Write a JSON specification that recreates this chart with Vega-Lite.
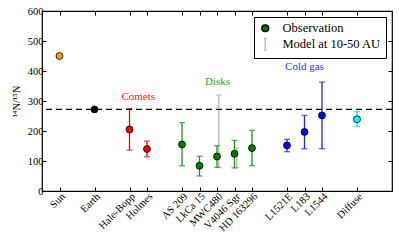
{
  "$schema": "https://vega.github.io/schema/vega-lite/v6.json",
  "width": 350,
  "height": 180,
  "autosize": {"type": "none"},
  "padding": {"left": 42, "top": 11, "right": 7, "bottom": 53},
  "config": {
    "font": "Liberation Serif",
    "text": {"font": "Liberation Serif"},
    "view": {"stroke": "black", "strokeWidth": 1.2},
    "axis": {
      "grid": false,
      "domain": false,
      "tickColor": "black",
      "tickSize": -4,
      "tickWidth": 1,
      "labelColor": "black",
      "labelFontSize": 10.5,
      "labelFont": "Liberation Serif",
      "titleFont": "Liberation Serif",
      "titleFontWeight": "normal",
      "titleColor": "black"
    },
    "legend": {"labelFont": "Liberation Serif"}
  },
  "datasets": {
    "obs": [
      {"name": "Sun", "x": 1, "v": 450, "lo": null, "hi": null, "group": "Sun"},
      {"name": "Earth", "x": 3, "v": 272, "lo": null, "hi": null, "group": "Earth"},
      {"name": "Hale-Bopp", "x": 5, "v": 205, "lo": 136, "hi": 275, "group": "Comets"},
      {"name": "Holmes", "x": 6, "v": 140, "lo": 114, "hi": 166, "group": "Comets"},
      {"name": "AS 209", "x": 8, "v": 155, "lo": 84, "hi": 228, "group": "Disks"},
      {"name": "LkCa 15", "x": 9, "v": 84, "lo": 50, "hi": 116, "group": "Disks"},
      {"name": "MWC480", "x": 10, "v": 115, "lo": 79, "hi": 151, "group": "Disks"},
      {"name": "V4046 Sgr", "x": 11, "v": 124, "lo": 77, "hi": 169, "group": "Disks"},
      {"name": "HD 163296", "x": 12, "v": 143, "lo": 84, "hi": 202, "group": "Disks"},
      {"name": "L1521E", "x": 14, "v": 152, "lo": 131, "hi": 172, "group": "Cold gas"},
      {"name": "L183", "x": 15, "v": 197, "lo": 141, "hi": 252, "group": "Cold gas"},
      {"name": "L1544", "x": 16, "v": 252, "lo": 141, "hi": 363, "group": "Cold gas"},
      {"name": "Diffuse", "x": 18, "v": 239, "lo": 215, "hi": 265, "group": "Diffuse"}
    ],
    "model": [
      {"name": "MWC480", "x": 10.1, "lo": 78, "hi": 320},
      {"name": "V4046 Sgr", "x": 11.12, "lo": 78, "hi": 144}
    ],
    "labels": [
      {"text": "Comets", "x": 5.5, "y": 313, "group": "Comets"},
      {"text": "Disks", "x": 10.03, "y": 364, "group": "Disks"},
      {"text": "Cold gas", "x": 15.0, "y": 413, "group": "Cold gas"}
    ],
    "ref": [{"y": 272}],
    "legend": [{"kind": "Observation"}, {"kind": "Model at 10-50 AU"}]
  },
  "layer": [
    {
      "data": {"name": "model"},
      "mark": {"type": "rule", "color": "#bfbfbf", "strokeWidth": 1.5},
      "encoding": {
        "x": {"field": "x", "type": "quantitative", "scale": {"domain": [0, 19]}, "axis": null},
        "y": {"field": "lo", "type": "quantitative", "scale": {"domain": [0, 600]}, "axis": null},
        "y2": {"field": "hi"}
      }
    },
    {
      "data": {"name": "model"},
      "transform": [{"fold": ["lo", "hi"], "as": ["end", "val"]}],
      "mark": {"type": "tick", "orient": "horizontal", "color": "#bfbfbf", "size": 6, "thickness": 1.3},
      "encoding": {
        "x": {"field": "x", "type": "quantitative", "axis": null},
        "y": {"field": "val", "type": "quantitative", "axis": null}
      }
    },
    {
      "data": {"name": "obs"},
      "transform": [{"filter": "datum.lo != null"}],
      "mark": {"type": "rule", "strokeWidth": 1.3},
      "encoding": {
        "x": {"field": "x", "type": "quantitative", "axis": {"orient": "top", "labels": false, "values": [1, 3, 5, 6, 8, 9, 10, 11, 12, 14, 15, 16, 18], "title": null}},
        "y": {"field": "lo", "type": "quantitative", "axis": {"orient": "right", "labels": false, "values": [0, 100, 200, 300, 400, 500, 600], "title": null}},
        "y2": {"field": "hi"},
        "color": {"field": "group", "type": "nominal", "legend": null,
          "scale": {"domain": ["Sun", "Earth", "Comets", "Disks", "Cold gas", "Diffuse"], "range": ["#FFA500", "#000000", "#FF0000", "#1f8f1f", "#2222FF", "#00E5E5"]}}
      }
    },
    {
      "data": {"name": "obs"},
      "transform": [{"filter": "datum.lo != null"}, {"fold": ["lo", "hi"], "as": ["end", "val"]}],
      "mark": {"type": "tick", "orient": "horizontal", "size": 6, "thickness": 1.3},
      "encoding": {
        "x": {"field": "x", "type": "quantitative", "axis": null},
        "y": {"field": "val", "type": "quantitative", "axis": null},
        "color": {"field": "group", "type": "nominal", "legend": null,
          "scale": {"domain": ["Sun", "Earth", "Comets", "Disks", "Cold gas", "Diffuse"], "range": ["#FFA500", "#000000", "#FF0000", "#1f8f1f", "#2222FF", "#00E5E5"]}}
      }
    },
    {
      "data": {"name": "ref"},
      "mark": {"type": "rule", "color": "black", "strokeDash": [6, 4], "strokeWidth": 1.2},
      "encoding": {"y": {"field": "y", "type": "quantitative", "axis": null}}
    },
    {
      "data": {"name": "obs"},
      "mark": {"type": "point", "filled": true, "size": 48, "stroke": "black", "strokeWidth": 0.8, "opacity": 1},
      "encoding": {
        "x": {"field": "x", "type": "quantitative",
          "axis": {"orient": "bottom", "title": null, "values": [1, 3, 5, 6, 8, 9, 10, 11, 12, 14, 15, 16, 18],
            "labelAngle": -45, "labelAlign": "right", "labelBaseline": "top", "labelPadding": 4,
            "labelOverlap": false, "labelBound": false, "labelFlush": false,
            "labelExpr": "datum.value==1?'Sun':datum.value==3?'Earth':datum.value==5?'Hale-Bopp':datum.value==6?'Holmes':datum.value==8?'AS 209':datum.value==9?'LkCa 15':datum.value==10?'MWC480':datum.value==11?'V4046 Sgr':datum.value==12?'HD 163296':datum.value==14?'L1521E':datum.value==15?'L183':datum.value==16?'L1544':datum.value==18?'Diffuse':''"}},
        "y": {"field": "v", "type": "quantitative",
          "axis": {"orient": "left", "title": "¹⁴N/¹⁵N", "titleFont": "Liberation Serif", "titleFontSize": 10.5, "titlePadding": 6, "values": [0, 100, 200, 300, 400, 500, 600], "labelPadding": 3}},
        "fill": {"field": "group", "type": "nominal", "legend": null,
          "scale": {"domain": ["Sun", "Earth", "Comets", "Disks", "Cold gas", "Diffuse"], "range": ["#FFA500", "#000000", "#FF0000", "#007a00", "#0000FF", "#00FFFF"]}}
      }
    },
    {
      "data": {"name": "labels"},
      "mark": {"type": "text", "fontSize": 11, "baseline": "middle", "align": "center", "font": "Liberation Serif"},
      "encoding": {
        "x": {"field": "x", "type": "quantitative", "axis": null},
        "y": {"field": "y", "type": "quantitative", "axis": null},
        "text": {"field": "text"},
        "color": {"field": "group", "type": "nominal", "legend": null,
          "scale": {"domain": ["Sun", "Earth", "Comets", "Disks", "Cold gas", "Diffuse"], "range": ["#FFA500", "#000000", "#FF2020", "#33A033", "#3333FF", "#00E5E5"]}}
      }
    },
    {
      "data": {"name": "legend"},
      "mark": {"type": "point", "filled": true, "size": 45, "opacity": 0, "strokeWidth": 1.2},
      "encoding": {
        "shape": {"field": "kind", "type": "nominal",
          "scale": {"domain": ["Observation", "Model at 10-50 AU"], "range": ["circle", "M-0.4,-1.7H0.4M0,-1.7V1.7M-0.4,1.7H0.4"]},
          "legend": {"title": null, "orient": "top-right", "offset": 6, "strokeColor": "black", "fillColor": "white",
            "padding": 5, "labelFontSize": 12.5, "labelFont": "Liberation Serif", "labelColor": "black",
            "symbolOpacity": 1, "symbolSize": 45, "symbolFillColor": "#007a00", "symbolStrokeColor": "black", "rowPadding": 0, "labelOffset": 11}},
        "fill": {"field": "kind", "type": "nominal",
          "scale": {"domain": ["Observation", "Model at 10-50 AU"], "range": ["#007a00", "transparent"]},
          "legend": {"title": null, "orient": "top-right", "offset": 6, "strokeColor": "black", "fillColor": "white",
            "padding": 5, "labelFontSize": 12.5, "labelFont": "Liberation Serif", "labelColor": "black",
            "symbolOpacity": 1, "symbolSize": 45, "symbolFillColor": "#007a00", "symbolStrokeColor": "black", "rowPadding": 0, "labelOffset": 11}},
        "stroke": {"field": "kind", "type": "nominal",
          "scale": {"domain": ["Observation", "Model at 10-50 AU"], "range": ["#000000", "#bfbfbf"]},
          "legend": {"title": null, "orient": "top-right", "offset": 6, "strokeColor": "black", "fillColor": "white",
            "padding": 5, "labelFontSize": 12.5, "labelFont": "Liberation Serif", "labelColor": "black",
            "symbolOpacity": 1, "symbolSize": 45, "symbolFillColor": "#007a00", "symbolStrokeColor": "black", "rowPadding": 0, "labelOffset": 11}}
      }
    }
  ],
  "resolve": {"axis": {"x": "independent", "y": "independent"}, "scale": {"color": "independent"}}
}
